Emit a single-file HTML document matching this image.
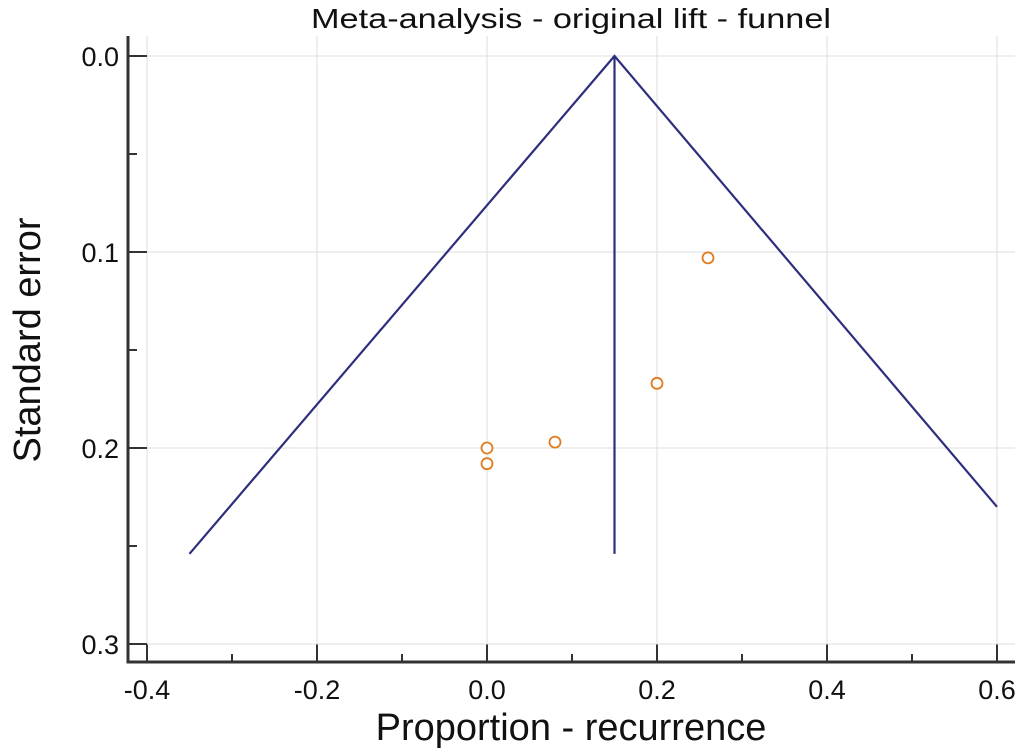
<!DOCTYPE html>
<html><head><meta charset="utf-8"><style>
body{margin:0;background:#fff}
svg text{font-family:"Liberation Sans",sans-serif;fill:#111}
</style></head><body>
<svg id="c" width="1024" height="748"></svg>
<script>
const xTicks=[-0.4,-0.2,0.0,0.2,0.4,0.6];
const yTicks=[0.0,0.1,0.2,0.3];
const studyEffect=[0.26,0.2,0.08,0.0,0.0];
const studySE=[0.103,0.167,0.197,0.2,0.208];
const pooled=0.15;
const funnelLeft=[-0.35,0.254];
const funnelRight=[0.6,0.23];
const X=v=>487+v*850, Y=v=>56+v*1960;
const s=document.getElementById('c'),NS='http://www.w3.org/2000/svg';
function mk(t,a,txt){const e=document.createElementNS(NS,t);for(const k in a)e.setAttribute(k,a[k]);if(txt!=null)e.textContent=txt;s.appendChild(e);return e;}
xTicks.forEach(v=>{const g=mk('line',{x1:X(v),x2:X(v),y1:36,y2:662,stroke:'#ddd','stroke-width':1});

const t=mk('line',{x1:X(v),x2:X(v),y1:644,y2:662,stroke:'#333','stroke-width':2});

const l=mk('text',{x:X(v),y:699,'font-size':27,'text-anchor':'middle'},v.toFixed(1));
});
for(let i=0;i<5;i++){const v=-0.3+i*0.2;const t=mk('line',{x1:X(v),x2:X(v),y1:654,y2:662,stroke:'#333','stroke-width':2});
}
yTicks.forEach(v=>{const g=mk('line',{x1:128,x2:1015,y1:Y(v),y2:Y(v),stroke:'#ddd','stroke-width':1});

const t=mk('line',{x1:128,x2:147,y1:Y(v),y2:Y(v),stroke:'#333','stroke-width':2});

const l=mk('text',{x:119,y:Y(v)+10,'font-size':27,'text-anchor':'end'},v.toFixed(1));
});
for(let i=0;i<3;i++){const v=0.05+i*0.1;const t=mk('line',{x1:128,x2:137,y1:Y(v),y2:Y(v),stroke:'#333','stroke-width':2});
}
const ax=mk('path',{d:'M128,36V662H1015',fill:'none',stroke:'#333','stroke-width':3});

const f=mk('polyline',{points:`${X(funnelLeft[0])},${Y(funnelLeft[1])} ${X(pooled)},${Y(0)} ${X(funnelRight[0])},${Y(funnelRight[1])}`,fill:'none',stroke:'#2e2e7e','stroke-width':2.2});

const pl=mk('line',{x1:X(pooled),x2:X(pooled),y1:Y(0),y2:Y(funnelLeft[1]),stroke:'#2e2e7e','stroke-width':2.2});

studyEffect.forEach((v,i)=>{const c=mk('circle',{cx:X(v),cy:Y(studySE[i]),r:5.5,fill:'#fff',stroke:'#e07b20','stroke-width':1.8});
});
const ti=mk('text',{x:571,y:28,'font-size':28,'text-anchor':'middle',textLength:520,lengthAdjust:'spacingAndGlyphs'},'Meta-analysis - original lift - funnel');

const xt=mk('text',{x:571,y:740,'font-size':38,'text-anchor':'middle'},'Proportion - recurrence');

const yt=mk('text',{x:0,y:0,'font-size':38,'text-anchor':'middle',transform:'translate(40,340) rotate(-90)'},'Standard error');

</script>
</body></html>
